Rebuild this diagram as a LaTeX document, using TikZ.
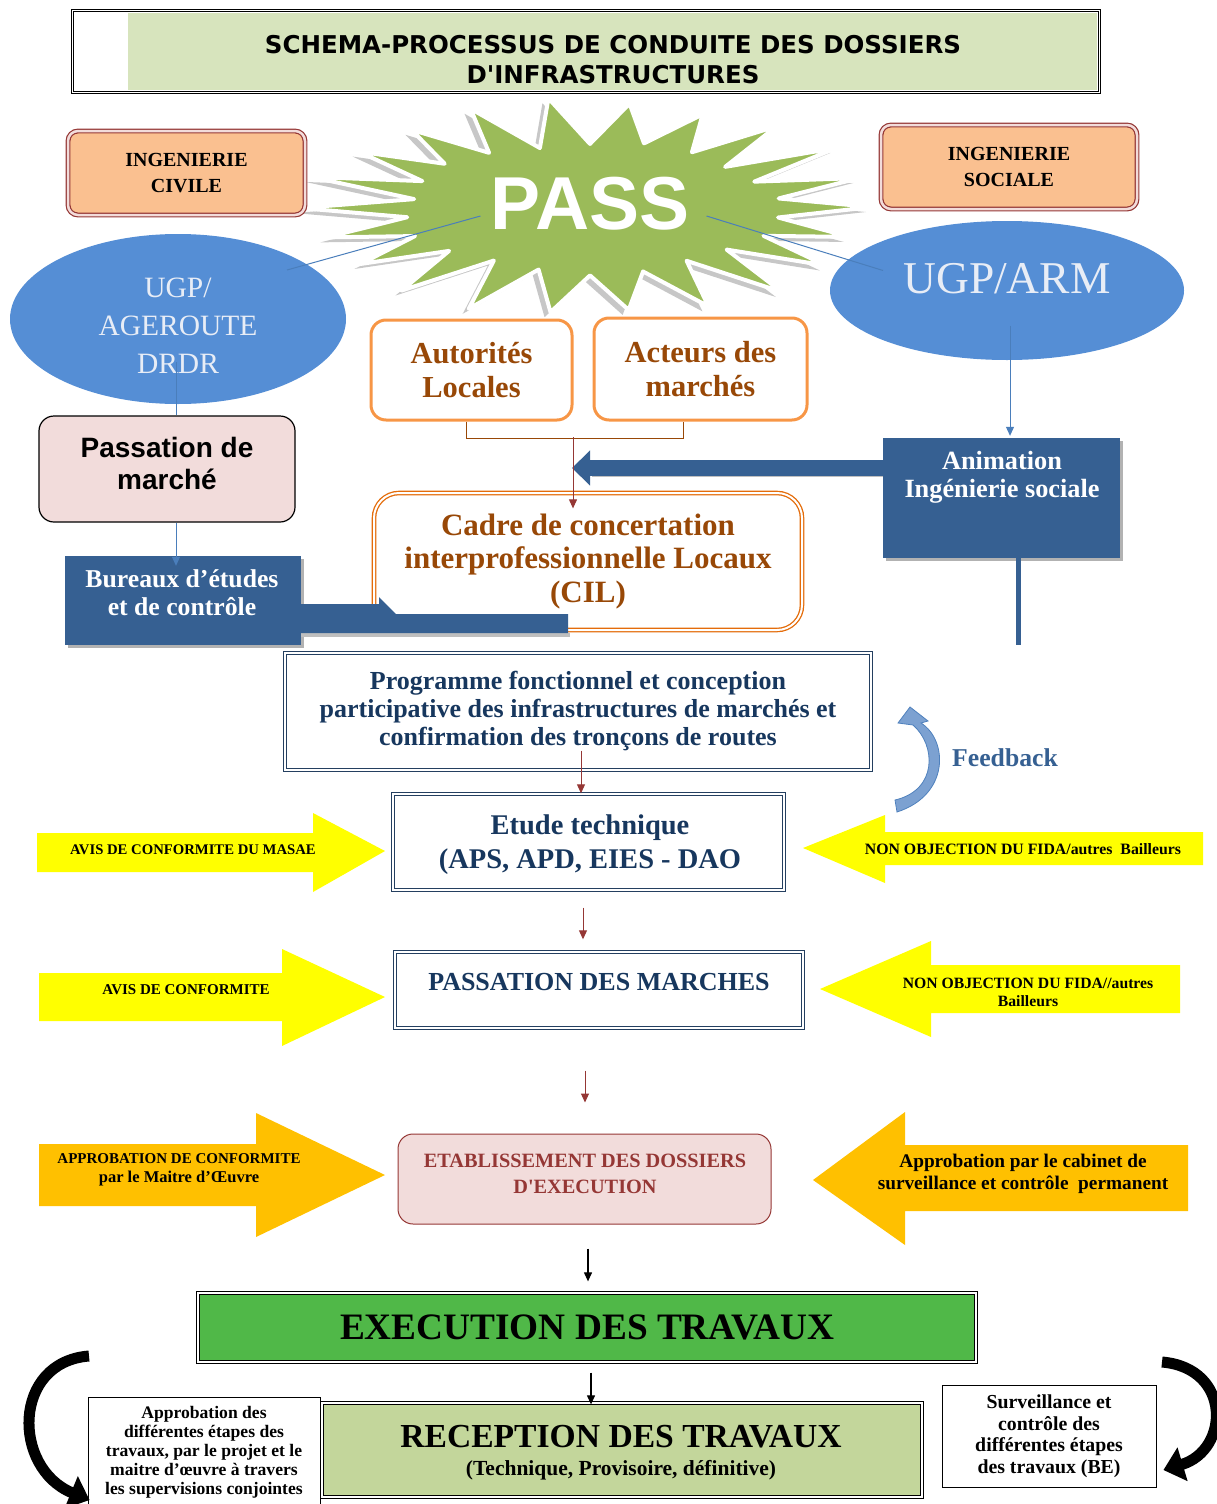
\documentclass[tikz,border=0pt]{standalone}
\usepackage{fontspec}
\setmainfont{Liberation Serif}
\newfontfamily\sansb{Liberation Sans}
\newfontfamily\titlef{DejaVu Sans}
\usetikzlibrary{shapes.geometric,arrows.meta,calc}
\definecolor{titlegreen}{HTML}{D7E4BD}
\definecolor{ingfill}{HTML}{FAC090}
\definecolor{ingborder}{HTML}{953735}
\definecolor{passgreen}{HTML}{9BBB59}
\definecolor{ellblue}{HTML}{558ED5}
\definecolor{ugptext}{HTML}{E8EDF6}
\definecolor{pinkfill}{HTML}{F2DCDB}
\definecolor{dblue}{HTML}{366092}
\definecolor{orangeb}{HTML}{F79646}
\definecolor{cilor}{HTML}{E46C0A}
\definecolor{brownt}{HTML}{984807}
\definecolor{navyb}{HTML}{243F60}
\definecolor{navyt}{HTML}{17375E}
\definecolor{darkred}{HTML}{953735}
\definecolor{fbfill}{HTML}{7CA1D1}
\definecolor{fbdraw}{HTML}{4F81BD}
\definecolor{fbtext}{HTML}{366092}
\definecolor{yel}{HTML}{FFFF00}
\definecolor{gold}{HTML}{FFC000}
\definecolor{execgreen}{HTML}{50B848}
\definecolor{recgreen}{HTML}{C3D69B}
\definecolor{thinb}{HTML}{4A7EBB}
\newcommand\fs[2]{\fontsize{#1}{#2}\selectfont}
\begin{document}
\begin{tikzpicture}[x=1pt,y=-1pt,
  every node/.style={inner sep=0pt, align=center},
  tipa/.style={-{Triangle[length=9pt,width=8pt]}},
  thinblue/.style={draw=thinb, line width=1pt},
  redarr/.style={draw=darkred, line width=1pt, tipa},
  blackarr/.style={draw=black, line width=1.2pt, tipa},
  navybox/.style={draw=navyb, double=white, double distance=2pt, line width=1.4pt, fill=white, text=navyt},
  ingbox/.style={draw=ingborder, double=pinkfill, double distance=2.5pt, line width=1.2pt, rounded corners=10pt, fill=ingfill, font={\bfseries\fs{20}{26}}},
  orbox/.style={draw=orangeb, line width=3pt, rounded corners=15pt, fill=white, text=brownt, font={\bfseries\fs{30.5}{34}}},
  lbl/.style={font={\bfseries\fs{15}{18}}}
]
\useasboundingbox (0,0) rectangle (1216,1504);

% ---------- title
\fill[titlegreen] (128,13) rectangle (1097,90);
\node[draw=black, double=white, double distance=1.6pt, line width=1pt, minimum width=1027pt, minimum height=82pt] (titlebox) at (586,51.5) {};
\node[font={\titlef\bfseries\fs{24.5}{30}}] (title) at (613,60) {SCHEMA-PROCESSUS DE CONDUITE DES DOSSIERS\\D\textquotesingle INFRASTRUCTURES};

% ---------- star
\fill[black!22, shift={(-6,5)}] ({590+282},207) \foreach \i in {1,...,43}{ -- ({590+(233.5+48.5*cos(\i*180))*(1+0.04*sin(\i*137))*cos(\i*360/44)},{208+(86+21*cos(\i*180))*(1+0.04*sin(\i*137))*sin(\i*360/44)})} -- cycle;
\filldraw[fill=passgreen, draw=white, line width=4pt, line join=round] ({590+282},207) \foreach \i in {1,...,43}{ -- ({590+(233.5+48.5*cos(\i*180))*(1+0.04*sin(\i*137))*cos(\i*360/44)},{208+(86+21*cos(\i*180))*(1+0.04*sin(\i*137))*sin(\i*360/44)})} -- cycle;
\node[text=white, font={\sansb\bfseries\fs{75}{75}}] (pass) at (590,204) {PASS};

% ---------- ingenierie boxes
\node[ingbox, minimum width=237pt, minimum height=84pt] (ingc) at (186.5,173) {INGENIERIE\\CIVILE};
\node[ingbox, minimum width=256pt, minimum height=84pt] (ings) at (1009,167) {INGENIERIE\\SOCIALE};

% ---------- ellipses
\node[ellipse, fill=ellblue, minimum width=336pt, minimum height=170pt] (ugpl) at (178,319) {};
\node[text=ugptext, font={\fs{29.5}{38}}] (ugplt) at (178,326) {UGP/\\AGEROUTE\\DRDR};
\node[ellipse, fill=ellblue, minimum width=354pt, minimum height=139pt] (ugpr) at (1007,290.5) {};
\node[text=ugptext, font={\fs{45.5}{50}}] (ugprt) at (1007,279) {UGP/ARM};
\draw[thinblue] ($(pass.west)+(-10,12)$) -- ($(ugpl.center)+(109,-49)$);
\draw[thinblue] ($(pass.east)+(17,12)$) -- ($(ugpr.center)+(-124,-20)$);

% ---------- passation de marche
\node[draw=black, line width=1.2pt, rounded corners=15pt, fill=pinkfill, minimum width=256pt, minimum height=106pt] (pm) at (167,469) {};
\node[font={\sansb\bfseries\fs{28}{32}}] (pmt) at (167,463) {Passation de\\marché};
\draw[thinblue] ($(ugpl.center)+(-2,43)$) -- ($(pm.north)+(9,0)$);

% ---------- bureaux
\fill[black!30] (68,559) rectangle (304,648);
\node[fill=dblue, minimum width=236pt, minimum height=89pt] (bec) at (183,600.5) {};
\node[text=white, font={\bfseries\fs{25.7}{28}}] (bect) at (182,593) {Bureaux d’études\\et de contrôle};
\draw[thinblue, tipa] ($(pm.south)+(9,0)$) -- ($(bec.north)+(-7,10)$);

% ---------- autorites / acteurs
\node[orbox, minimum width=201pt, minimum height=100pt] (al) at (471.5,370) {Autorités\\Locales};
\node[orbox, minimum width=213pt, minimum height=102pt] (am) at (700.5,369) {Acteurs des\\marchés};

% ---------- CIL
\node[draw=cilor, double=white, double distance=2pt, line width=1.3pt, rounded corners=25pt, fill=white, minimum width=428pt, minimum height=137pt, text=brownt, font={\bfseries\fs{31}{33.5}}] (cil) at (588,561.5) {Cadre de concertation\\interprofessionnelle Locaux\\(CIL)};

% ---------- animation
\fill[black!30] (886,441) rectangle (1123,561);
\node[fill=dblue, minimum width=237pt, minimum height=120pt] (anim) at (1001.5,498) {};
\node[text=white, font={\bfseries\fs{26.3}{28}}] (animt) at (1002,477) {Animation\\Ingénierie sociale};
\draw[thinblue, tipa] ($(ugpr.center)+(3,35)$) -- ($(anim.north)+(8.5,-2)$);
\draw[dblue, line width=5pt] ($(anim.south)+(16.5,0)$) -- ++(0,87) coordinate (animend);

% blue thick arrow animation -> CIL
\coordinate (bat) at (572,468);
\fill[black!25] ($(anim.west)+(0,-25)$) -- ($(bat)+(20,5)$) -- ($(bat)+(20,9)$) -- ($(anim.west)+(0,-21)$) -- cycle;
\draw[dblue, line width=16pt, -{Triangle[length=18pt,width=34pt]}] ($(anim.west)+(0,-30)$) -- (bat);

% bracket + red arrow to CIL
\draw[draw=brownt, line width=1pt] ($(al.south)+(-5.5,0)$) -- ++(0,17) -| ($(am.south)+(-17.5,0)$);
\coordinate (brk) at (573,437);
\draw[redarr] (brk) -- ($(brk |- cil.north)+(0,16)$);

% band from bureaux to CIL
\fill[black!25] (301,633) rectangle (570,637);
\fill[dblue] (301,604) -- (379,604) -- (379,597) -- (396,614) -- (568,614) -- (568,633) -- (301,633) -- cycle;

% ---------- programme
\node[navybox, minimum width=586pt, minimum height=117pt, font={\bfseries\fs{26}{28}}] (prog) at (578,711.5) {Programme fonctionnel et conception\\participative des infrastructures de marchés et\\confirmation des tronçons de routes};

% ---------- etude
\node[navybox, minimum width=391pt, minimum height=96pt] (etude) at (588.5,842) {};
\node[text=navyt, font={\bfseries\fs{28.5}{34}}] (etudet) at (590,845) {Etude technique\\(APS, APD, EIES - DAO};
\draw[redarr] ($(prog.south)+(3,-20)$) -- ($(etude.north)+(-7.5,0)$);

% feedback
\filldraw[fill=fbfill, draw=fbdraw, line width=0.8pt] (897,812) .. controls (950,795) and (948,740) .. (921,723) -- (928,721) -- (910,707) -- (898,723) -- (913,725) .. controls (936,745) and (938,790) .. (895,800) -- cycle;
\node[text=fbtext, font={\bfseries\fs{25.7}{28}}] (fb) at (1005,758) {Feedback};

% yellow arrows row 1
\fill[yel] (37,833) -- (313,833) -- (313,813) -- (385,851) -- (313,892) -- (313,872) -- (37,872) -- cycle;
\node[font={\bfseries\fs{14.7}{18}}] (y1) at (193,850) {AVIS DE CONFORMITE DU MASAE};
\fill[yel] (1203,832) -- (885,832) -- (885,815) -- (803,848) -- (885,883) -- (885,865) -- (1203,865) -- cycle;
\node[font={\bfseries\fs{15.8}{18}}] (y2) at (1023,849) {NON OBJECTION DU FIDA/autres\ \ Bailleurs};

% ---------- passation des marches
\node[navybox, minimum width=408pt, minimum height=76pt] (pdm) at (599,990) {};
\node[text=navyt, font={\bfseries\fs{26}{30}}] (pdmt) at (599,982) {PASSATION DES MARCHES};
\draw[redarr] ($(etude.south)+(-5.5,17)$) -- ($(pdm.north)+(-16,-12)$);

\fill[yel] (39,973) -- (282,973) -- (282,949) -- (385,997) -- (282,1046) -- (282,1021) -- (39,1021) -- cycle;
\node[lbl] (y3) at (186,990) {AVIS DE CONFORMITE};
\fill[yel] (1180,965) -- (931,965) -- (931,941) -- (820,989) -- (931,1037) -- (931,1013) -- (1180,1013) -- cycle;
\node[font={\bfseries\fs{15.7}{18}}] (y4) at (1028,992) {NON OBJECTION DU FIDA//autres\\Bailleurs};

% ---------- etablissement
\node[draw=darkred, line width=1pt, rounded corners=15pt, fill=pinkfill, minimum width=373pt, minimum height=90pt] (etab) at (584.5,1179) {};
\node[text=darkred, font={\bfseries\fs{20.3}{26}}] (etabt) at (585,1174) {ETABLISSEMENT DES DOSSIERS\\D\textquotesingle EXECUTION};
\draw[redarr] ($(pdm.south)+(-14,42)$) -- ($(etab.north)+(0.5,-31)$);

\fill[gold] (39,1144) -- (256,1144) -- (256,1113) -- (385,1175) -- (256,1237) -- (256,1206) -- (39,1206) -- cycle;
\node[font={\bfseries\fs{15}{19}}] (g1) at (179,1170) {APPROBATION DE CONFORMITE\\{\fs{16.5}{19}par le Maitre d’Œuvre}};
\fill[gold] (1188,1145) -- (905,1145) -- (905,1112) -- (813,1180) -- (905,1245) -- (905,1211) -- (1188,1211) -- cycle;
\node[font={\bfseries\fs{19.3}{22}}] (g2) at (1023,1174) {Approbation par le cabinet de\\surveillance et contrôle\ \ permanent};

% ---------- execution
\node[draw=black, double=white, double distance=2pt, line width=1.3pt, fill=execgreen, minimum width=778pt, minimum height=69pt, font={\bfseries\fs{37.3}{40}}] (exec) at (587,1327.5) {EXECUTION DES TRAVAUX};
\draw[blackarr] ($(etab.south)+(3.5,24)$) -- ($(exec.north)+(1,-11)$);

% ---------- reception
\node[draw=black, double=white, double distance=2pt, line width=1.3pt, fill=recgreen, minimum width=600pt, minimum height=94pt] (recep) at (622,1450) {};
\node[font={\bfseries\fs{33.6}{36}}] (rect1) at (621,1437) {RECEPTION DES TRAVAUX};
\node[font={\bfseries\fs{21.5}{22}}] (rect2) at (621,1470) {(Technique, Provisoire, définitive)};
\draw[blackarr] ($(exec.south)+(4,10)$) -- ($(recep.north)+(-31,2)$);

% ---------- notes
\node[draw=black, line width=0.8pt, fill=white, minimum width=232pt, minimum height=112pt] (notel) at (204,1453) {};
\node[font={\bfseries\fs{17.6}{19}}] (notelt) at (204,1452.5) {Approbation des\\différentes étapes des\\travaux, par le projet et le\\maitre d’œuvre à travers\\les supervisions conjointes};
\node[draw=black, line width=0.8pt, fill=white, minimum width=214pt, minimum height=102pt, font={\bfseries\fs{19.8}{21.5}}] (noter) at (1049,1436) {Surveillance et\\contrôle des\\différentes étapes\\des travaux (BE)};

% curved black arrows
\coordinate (cl) at (89,1356);
\draw[line width=11pt, -{Triangle[length=20pt,width=34pt]}] (cl) .. controls (12,1362) and (12,1468) .. ($(notel.west)+(2,47)$);
\coordinate (cr) at (1162,1362);
\draw[line width=11pt, -{Triangle[length=20pt,width=34pt]}] (cr) .. controls (1232,1368) and (1230,1450) .. ($(noter.east)+(7,34)$);
\end{tikzpicture}
\end{document}
